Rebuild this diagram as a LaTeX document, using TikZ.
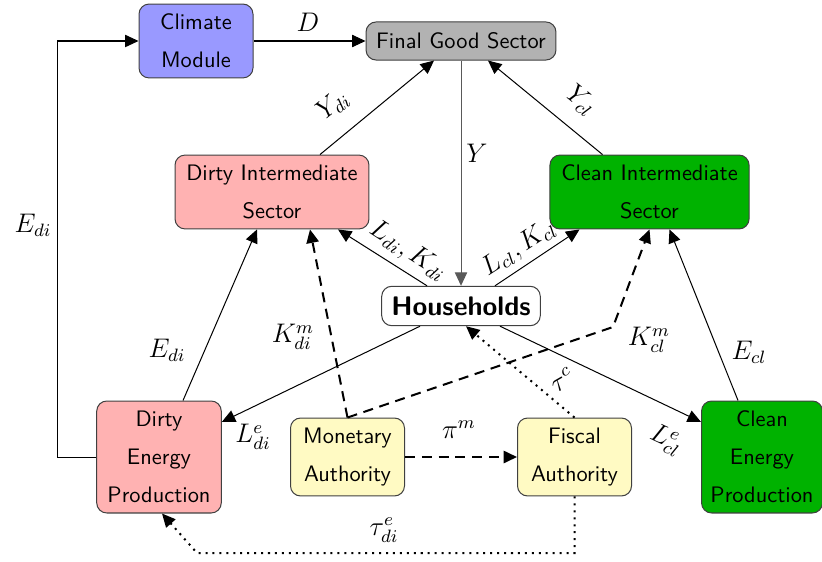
\documentclass[tikz,border=0pt]{standalone}
\usetikzlibrary{arrows.meta,calc}
\definecolor{climblue}{RGB}{153,153,255}
\definecolor{fgray}{RGB}{178,178,178}
\definecolor{dirtyred}{RGB}{255,178,178}
\definecolor{cleangreen}{RGB}{0,178,0}
\definecolor{authyellow}{RGB}{255,250,195}
\begin{document}
\begin{tikzpicture}[x=0.4465pt,y=-0.4465pt,
 box/.style={draw=black!75, rounded corners=4.5pt, align=center, inner sep=0pt,
   font=\sffamily\fontsize{10}{17}\selectfont, line width=0.45pt},
 arr/.style={-{Triangle[length=6pt,width=5.5pt]}, line width=0.45pt},
 dsh/.style={arr, line width=0.9pt, dash pattern=on 4.5pt off 3pt},
 dotl/.style={arr, line width=0.9pt, dash pattern=on 0.9pt off 2.2pt},
 lbl/.style={font=\fontsize{11.5}{14}\selectfont, inner sep=0pt},
]
\useasboundingbox (0,0) rectangle (822,561);

% nodes
\node[box, fill=climblue, minimum width=50.9pt, minimum height=33pt] (climate) at (196,41) {Climate\\Module};
\node[box, fill=fgray, minimum width=84.8pt, minimum height=17pt] (final) at (461,41) {Final Good Sector};
\node[box, fill=dirtyred, minimum width=86.6pt, minimum height=33pt] (dint) at (272,192) {Dirty Intermediate\\Sector};
\node[box, fill=cleangreen, minimum width=88.9pt, minimum height=33pt] (cint) at (649.5,192) {Clean Intermediate\\Sector};
\node[box, fill=white, minimum width=70.8pt, minimum height=17.6pt, font=\sffamily\bfseries\large] (hh) at (461,306) {Households};
\node[box, fill=dirtyred, minimum width=55.6pt, minimum height=50pt] (denergy) at (159,457) {Dirty\\Energy\\Production};
\node[box, fill=authyellow, minimum width=50.9pt, minimum height=34.8pt] (monetary) at (347.5,457) {Monetary\\Authority};
\node[box, fill=authyellow, minimum width=50.9pt, minimum height=34.8pt] (fiscal) at (574.5,457) {Fiscal\\Authority};
\node[box, fill=cleangreen, minimum width=54pt, minimum height=50pt] (cenergy) at (762,457) {Clean\\Energy\\Production};

% coordinates
\coordinate (kbend) at (613,327);
\coordinate (tcorner1) at (574.5,553);
\coordinate (tcorner2) at (197,553);

% connectors
\draw[arr] (climate.east) -- (final.west);
\draw[arr] (denergy.west) -- ++(-39,0) |- (climate.west);
\draw[arr] ($(dint.north)+(48,0)$) -- ($(final.south)+(-27,0)$);
\draw[arr] ($(cint.north)+(-47,0)$) -- ($(final.south)+(27,0)$);
\draw[arr, draw=black!65] (final.south) -- (hh.north);
\draw[arr] ($(hh.north)+(-34,0)$) -- ($(dint.south)+(66,0)$);
\draw[arr] ($(hh.north)+(34,0)$) -- ($(cint.south)+(-70,0)$);
\draw[arr] ($(hh.south)+(-41,0)$) -- ($(denergy.east)+(0,-35)$);
\draw[arr] ($(hh.south)+(39,0)$) -- ($(cenergy.west)+(0,-35)$);
\draw[arr] ($(denergy.north)+(24,0)$) -- ($(dint.south)+(-15,0)$);
\draw[arr] ($(cenergy.north)+(-24,0)$) -- ($(cint.south)+(20,0)$);
\draw[dsh] (monetary.north) -- ($(dint.south)+(38,0)$);
\draw[dsh] (monetary.north) -- (kbend) -- (cint.south);
\draw[dsh] (monetary.east) -- (fiscal.west);
\draw[dotl] (fiscal.north) -- ($(hh.south)+(5,0)$);
\draw[dotl] (fiscal.south) -- (tcorner1) -- (tcorner2) -- ($(denergy.south)+(3,0)$);

% labels
\node[lbl] (lD) at (308,22) {$D$};
\node[lbl, rotate=39] (lYdi) at (333,105) {$Y_{di}$};
\node[lbl, rotate=-39] (lYcl) at (581,101) {$Y_{cl}$};
\node[lbl] (lY) at (477,153) {$Y$};
\node[lbl, rotate=-33] (lLdi) at (408,251) {$L_{di}, K_{di}$};
\node[lbl, rotate=33] (lLcl) at (519,248) {$L_{cl}, K_{cl}$};
\node[lbl] (lKmdi) at (293,337) {$K^m_{di}$};
\node[lbl] (lKmcl) at (649,340) {$K^m_{cl}$};
\node[lbl] (lEdi1) at (33,225) {$E_{di}$};
\node[lbl] (lEdi2) at (167,350) {$E_{di}$};
\node[lbl] (lEcl) at (749,352) {$E_{cl}$};
\node[lbl] (lLedi) at (253,437) {$L^e_{di}$};
\node[lbl, rotate=-25] (lLecl) at (666,440) {$L^e_{cl}$};
\node[lbl] (lpi) at (459,430) {$\pi^m$};
\node[lbl, rotate=30] (ltauc) at (562,380) {$\tau^c$};
\node[lbl] (ltaue) at (384,530) {$\tau^e_{di}$};
\end{tikzpicture}
\end{document}
